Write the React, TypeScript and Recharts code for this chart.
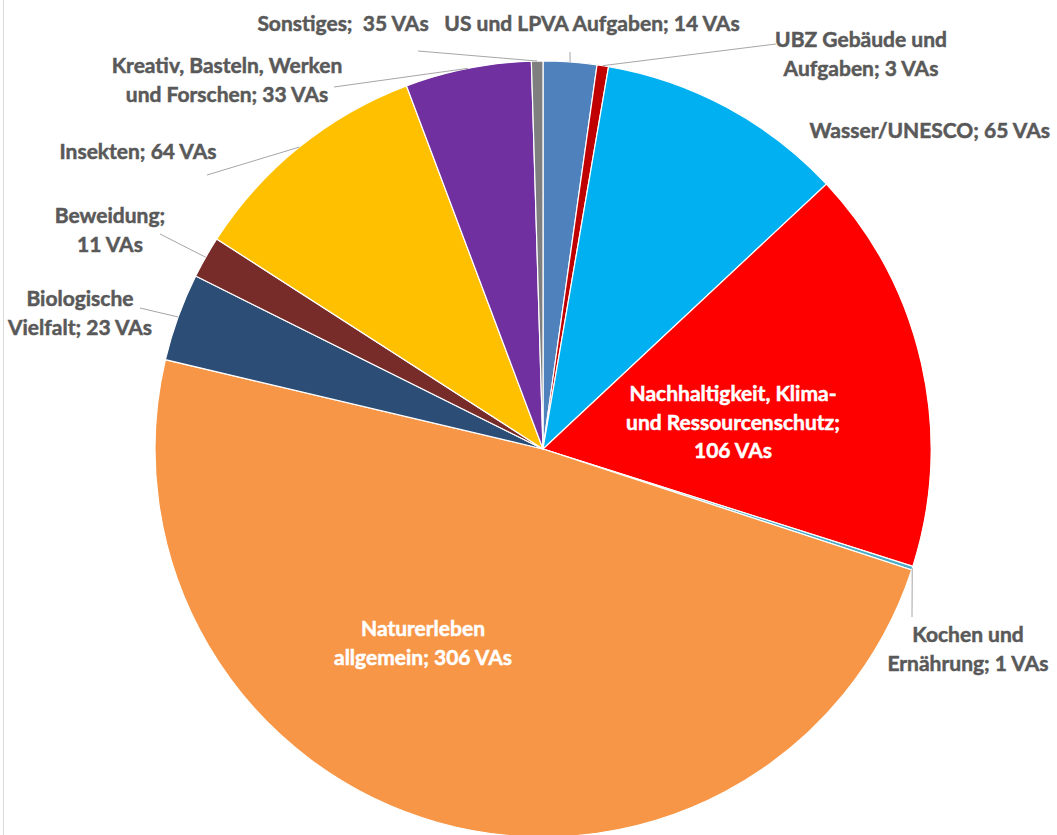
import React from 'react';
import { PieChart, Pie, Cell } from 'recharts';

// Anzahl Veranstaltungen je Themenbereich (im Uhrzeigersinn ab 12 Uhr)
const categories = [
    'US und LPVA Aufgaben',
    'UBZ Gebäude und Aufgaben',
    'Wasser/UNESCO',
    'Nachhaltigkeit, Klima- und Ressourcenschutz',
    'Kochen und Ernährung',
    'Naturerleben allgemein',
    'Biologische Vielfalt',
    'Beweidung',
    'Insekten',
    'Kreativ, Basteln, Werken und Forschen',
    'Sonstiges',
];

// Slice sizes as drawn in the picture (Sonstiges is drawn as a thin slice)
const sliceValues = [14, 3, 65, 106, 1, 306, 23, 11, 64, 33, 3];

// Label texts as printed
const labelTexts = [
    ['US und LPVA Aufgaben; 14 VAs'],
    ['UBZ Gebäude und', 'Aufgaben; 3 VAs'],
    ['Wasser/UNESCO; 65 VAs'],
    ['Nachhaltigkeit, Klima-', 'und Ressourcenschutz;', '106 VAs'],
    ['Kochen und', 'Ernährung; 1 VAs'],
    ['Naturerleben', 'allgemein; 306 VAs'],
    ['Biologische', 'Vielfalt; 23 VAs'],
    ['Beweidung;', '11 VAs'],
    ['Insekten; 64 VAs'],
    ['Kreativ, Basteln, Werken', 'und Forschen; 33 VAs'],
    ['Sonstiges;  35 VAs'],
];

const colors = [
    '#4F81BD', '#C00000', '#00B0F0', '#FF0000', '#4BACC6', '#F79646',
    '#2C4D75', '#772C2A', '#FFC000', '#7030A0', '#7F7F7F',
];

// label layout: text anchor point, leader-line start (none = no line), inside label
const labelLayout: { x: number; y: number; lx?: number; ly?: number; inside?: boolean; anchor?: 'middle' | 'end' }[] = [
    { x: 592, y: 22, lx: 570, ly: 52 },
    { x: 861, y: 38, lx: 776, ly: 44 },
    { x: 1050, y: 129, anchor: 'end' },
    { x: 733, y: 392, inside: true },
    { x: 968, y: 633, lx: 912, ly: 617 },
    { x: 423, y: 627, inside: true },
    { x: 80, y: 297, lx: 140, ly: 308 },
    { x: 110, y: 214, lx: 160, ly: 234 },
    { x: 138, y: 150, lx: 207, ly: 175 },
    { x: 227, y: 64, lx: 334, ly: 87 },
    { x: 343, y: 22, lx: 418, ly: 51 },
];

const data = categories.map((name, i) => ({ name, value: sliceValues[i] }));

const RAD = Math.PI / 180;
const LINE_H = 28.5;

const renderLabel = (props: any) => {
    const { cx, cy, midAngle, outerRadius, index } = props;
    const lay = labelLayout[index];
    const lines = labelTexts[index];
    const ex = cx + outerRadius * Math.cos(-midAngle * RAD);
    const ey = cy + outerRadius * Math.sin(-midAngle * RAD);
    const col = lay.inside ? '#FFFFFF' : '#595959';
    return (
        <g key={`lbl-${index}`}>
            {lay.lx !== undefined && (
                <line x1={lay.lx} y1={lay.ly} x2={ex} y2={ey} stroke="#A6A6A6" strokeWidth={1} />
            )}
            <text
                x={lay.x}
                y={lay.y}
                textAnchor={lay.anchor || 'middle'}
                dominantBaseline="central"
                fill={col}
                stroke={col}
                strokeWidth={0.5}
                style={{ fontFamily: 'Lato, "Open Sans", sans-serif', fontWeight: 700, fontSize: 21, whiteSpace: 'pre' }}
            >
                {lines.map((t, k) => (
                    <tspan key={k} x={lay.x} y={lay.y + k * LINE_H}>{t}</tspan>
                ))}
            </text>
        </g>
    );
};

const App: React.FC = () => {
    return (
        <div style={{ width: 1057, height: 835, position: 'relative', overflow: 'hidden', background: '#fff' }}>
            <style>{'body{margin:0;}'}</style>
            <div style={{ position: 'absolute', left: 3, top: 0, width: 1, height: 835, background: '#D9D9D9' }} />
            <PieChart width={1057} height={835} margin={{ top: 0, right: 0, bottom: 0, left: 0 }}>
                <Pie
                    data={data}
                    dataKey="value"
                    nameKey="name"
                    cx={543}
                    cy={449}
                    outerRadius={388}
                    startAngle={90}
                    endAngle={-270}
                    stroke="#FFFFFF"
                    strokeWidth={1.2}
                    label={renderLabel}
                    labelLine={false}
                    isAnimationActive={false}
                >
                    {data.map((d, i) => (
                        <Cell key={d.name} fill={colors[i]} />
                    ))}
                </Pie>
            </PieChart>
        </div>
    );
};

export default App;
